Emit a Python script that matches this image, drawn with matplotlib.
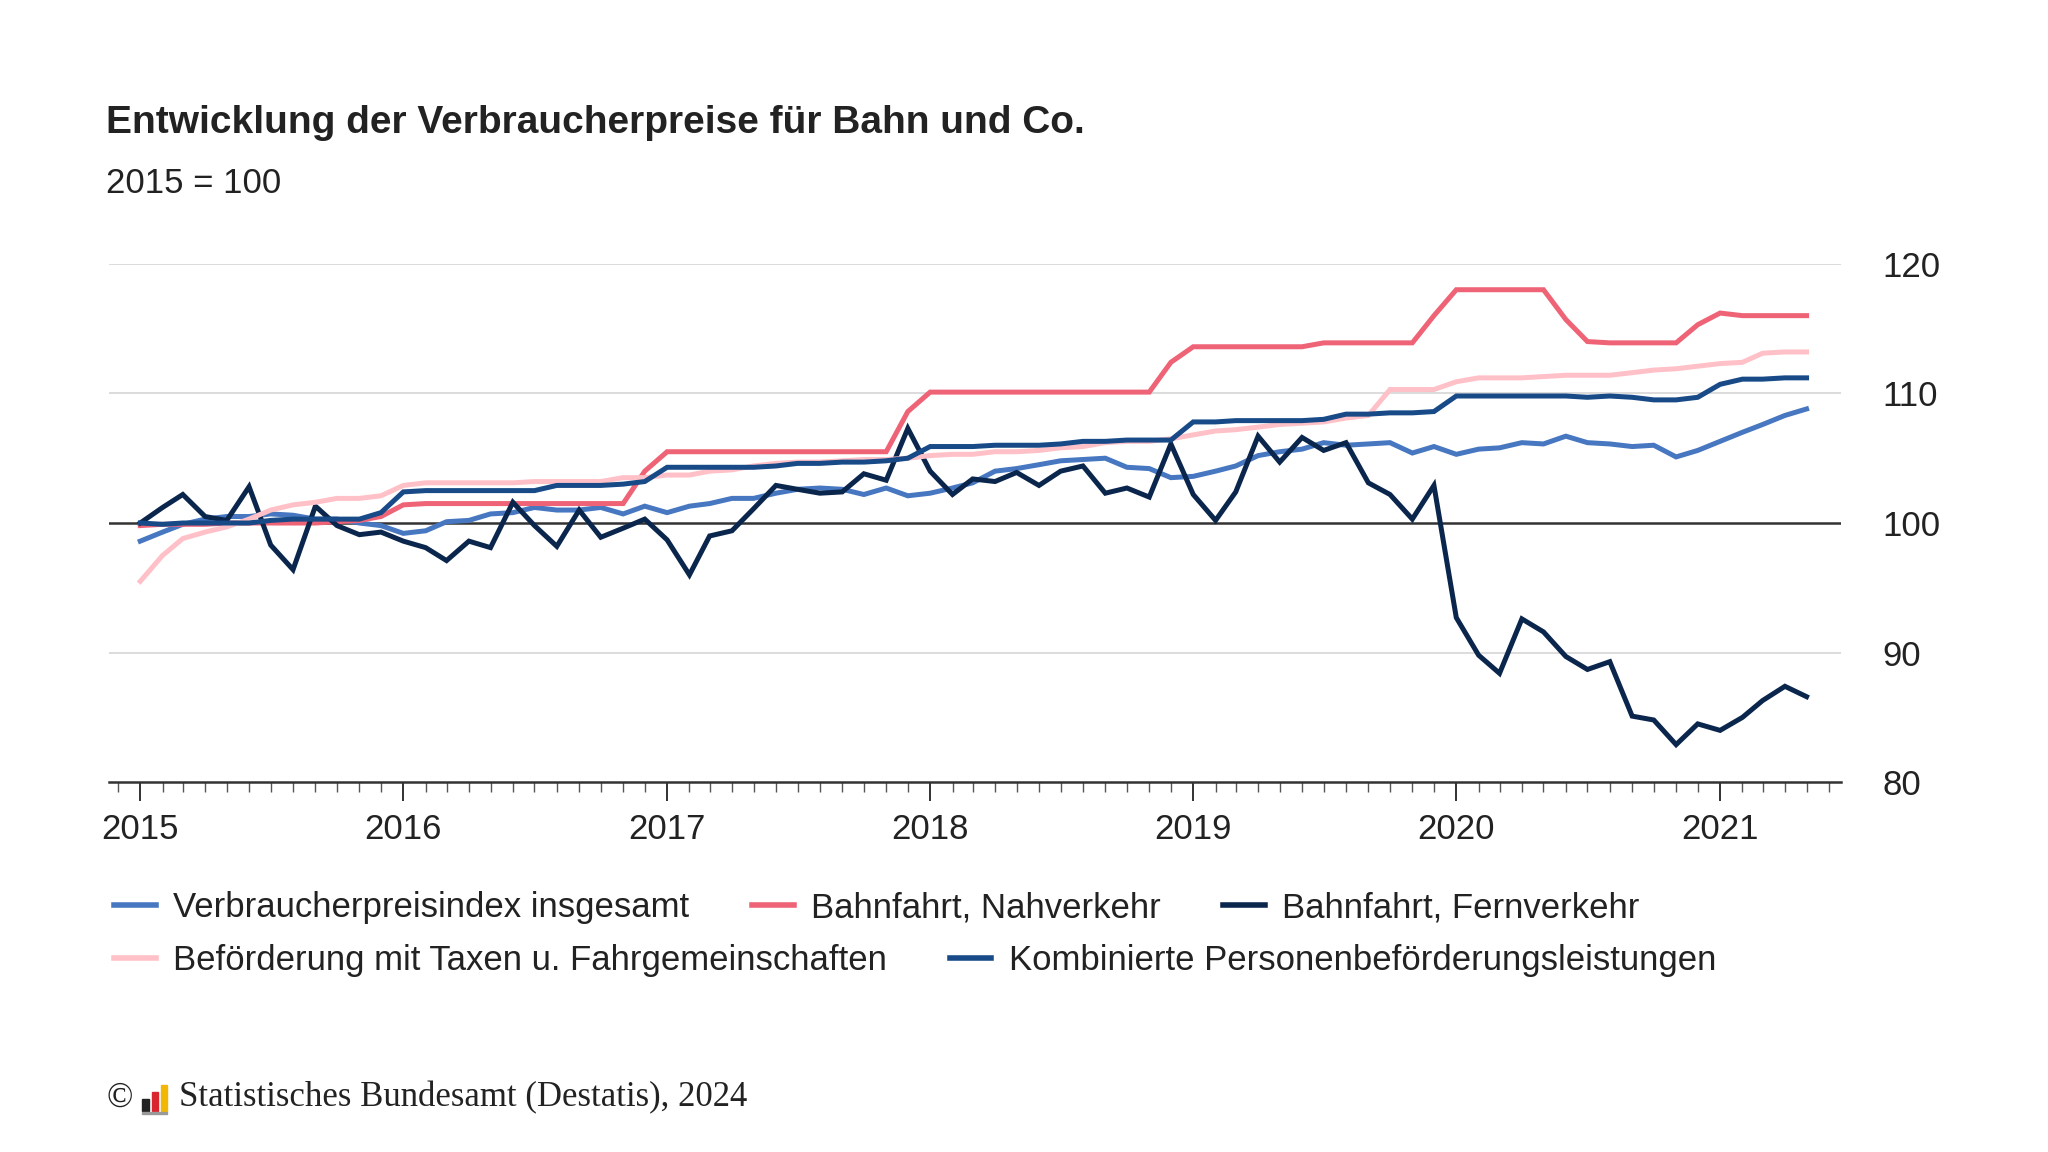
import matplotlib.pyplot as plt
import matplotlib.dates as mdates
from matplotlib.lines import Line2D
from matplotlib.patches import Rectangle
import pandas as pd

plt.rcParams['font.family'] = ['Liberation Sans', 'DejaVu Sans']

months = pd.date_range('2015-01-01', '2021-05-01', freq='MS')

vpi = [98.6, 99.3, 99.9, 100.3, 100.5, 100.5, 100.7, 100.6, 100.3, 100.3, 100.0, 99.8,
       99.2, 99.4, 100.1, 100.2, 100.7, 100.8, 101.2, 101.0, 101.0, 101.2, 100.7, 101.3,
       100.8, 101.3, 101.5, 101.9, 101.9, 102.3, 102.6, 102.7, 102.6, 102.2, 102.7, 102.1,
       102.3, 102.7, 103.1, 104.0, 104.2, 104.5, 104.8, 104.9, 105.0, 104.3, 104.2, 103.5,
       103.6, 104.0, 104.4, 105.2, 105.5, 105.7, 106.2, 106.0, 106.1, 106.2, 105.4, 105.9,
       105.3, 105.7, 105.8, 106.2, 106.1, 106.7, 106.2, 106.1, 105.9, 106.0, 105.1, 105.6,
       106.3, 107.0, 107.6, 108.3, 108.8]
nahverkehr = [99.8, 99.9, 99.9, 99.9, 100.0, 100.0, 100.0, 100.0, 100.0, 100.1, 100.2, 100.5,
              101.4, 101.5, 101.5, 101.5, 101.5, 101.5, 101.5, 101.5, 101.5, 101.5, 101.5, 104.0,
              105.5, 105.5, 105.5, 105.5, 105.5, 105.5, 105.5, 105.5, 105.5, 105.5, 105.5, 108.6,
              110.1, 110.1, 110.1, 110.1, 110.1, 110.1, 110.1, 110.1, 110.1, 110.1, 110.1, 112.4,
              113.6, 113.6, 113.6, 113.6, 113.6, 113.6, 113.9, 113.9, 113.9, 113.9, 113.9, 116.0,
              118.0, 118.0, 118.0, 118.0, 118.0, 115.7, 114.0, 113.9, 113.9, 113.9, 113.9, 115.3,
              116.2, 116.0, 116.0, 116.0, 116.0]
fernverkehr = [100.0, 101.2, 102.2, 100.5, 100.2, 102.8, 98.3, 96.4, 101.3, 99.8, 99.1, 99.3,
               98.6, 98.1, 97.1, 98.6, 98.1, 101.6, 99.8, 98.2, 101.0, 98.9, 99.6, 100.3,
               98.7, 96.0, 99.0, 99.4, 101.1, 102.9, 102.6, 102.3, 102.4, 103.8, 103.3, 107.3,
               104.0, 102.2, 103.4, 103.2, 103.9, 102.9, 104.0, 104.4, 102.3, 102.7, 102.0, 106.1,
               102.2, 100.2, 102.4, 106.7, 104.7, 106.6, 105.6, 106.2, 103.1, 102.2, 100.3, 102.9,
               92.7, 89.8, 88.4, 92.6, 91.6, 89.7, 88.7, 89.3, 85.1, 84.8, 82.9, 84.5,
               84.0, 85.0, 86.3, 87.4, 86.6]
taxen = [95.5, 97.5, 98.8, 99.3, 99.7, 100.3, 101.0, 101.4, 101.6, 101.9, 101.9, 102.1,
         102.9, 103.1, 103.1, 103.1, 103.1, 103.1, 103.2, 103.2, 103.2, 103.2, 103.5, 103.5,
         103.7, 103.7, 104.0, 104.1, 104.4, 104.6, 104.7, 104.7, 104.8, 104.9, 104.9, 105.0,
         105.2, 105.3, 105.3, 105.5, 105.5, 105.6, 105.8, 105.9, 106.2, 106.3, 106.3, 106.5,
         106.8, 107.1, 107.2, 107.4, 107.6, 107.7, 107.8, 108.1, 108.3, 110.3, 110.3, 110.3,
         110.9, 111.2, 111.2, 111.2, 111.3, 111.4, 111.4, 111.4, 111.6, 111.8, 111.9, 112.1,
         112.3, 112.4, 113.1, 113.2, 113.2]
kombiniert = [100.0, 99.9, 100.0, 100.0, 100.0, 100.0, 100.2, 100.3, 100.3, 100.3, 100.3, 100.8,
              102.4, 102.5, 102.5, 102.5, 102.5, 102.5, 102.5, 102.9, 102.9, 102.9, 103.0, 103.2,
              104.3, 104.3, 104.3, 104.3, 104.3, 104.4, 104.6, 104.6, 104.7, 104.7, 104.8, 105.0,
              105.9, 105.9, 105.9, 106.0, 106.0, 106.0, 106.1, 106.3, 106.3, 106.4, 106.4, 106.4,
              107.8, 107.8, 107.9, 107.9, 107.9, 107.9, 108.0, 108.4, 108.4, 108.5, 108.5, 108.6,
              109.8, 109.8, 109.8, 109.8, 109.8, 109.8, 109.7, 109.8, 109.7, 109.5, 109.5, 109.7,
              110.7, 111.1, 111.1, 111.2, 111.2]

series = [
    ('Verbraucherpreisindex insgesamt', vpi, '#4677c0'),
    ('Bahnfahrt, Nahverkehr', nahverkehr, '#ef6377'),
    ('Bahnfahrt, Fernverkehr', fernverkehr, '#0b264d'),
    ('Beförderung mit Taxen u. Fahrgemeinschaften', taxen, '#ffc1c7'),
    ('Kombinierte Personenbeförderungsleistungen', kombiniert, '#174a87'),
]

fig = plt.figure(figsize=(20.48, 11.52), dpi=100)
ax = fig.add_axes([0.053, 0.321, 0.846, 0.45])

# grid and baseline
for y in [90, 110, 120]:
    ax.axhline(y, color='#d9d9d9', lw=1.3, zorder=0)
ax.axhline(100, color='#333333', lw=1.8, zorder=1)

# draw in an order so dark line lies on top
draw_order = [3, 0, 4, 1, 2]
for i in draw_order:
    name, vals, color = series[i]
    ax.plot(months, vals, color=color, lw=3.6, solid_joinstyle='miter', zorder=2 + i * 0.1)

ax.set_ylim(80, 120)
ax.set_xlim(pd.Timestamp('2014-11-18'), pd.Timestamp('2021-06-18'))
ax.yaxis.tick_right()
ax.set_yticks([80, 90, 100, 110, 120])
ax.tick_params(axis='y', length=0, labelsize=25, pad=30, colors='#222222')

ax.xaxis.set_major_locator(mdates.YearLocator())
ax.xaxis.set_major_formatter(mdates.DateFormatter('%Y'))
ax.xaxis.set_minor_locator(mdates.MonthLocator())
ax.tick_params(axis='x', which='major', length=14, width=1.3, labelsize=25, pad=8,
               colors='#222222')
ax.tick_params(axis='x', which='minor', length=7, width=1.0, color='#555555')

for s in ['top', 'right', 'left']:
    ax.spines[s].set_visible(False)
ax.spines['bottom'].set_color('#333333')
ax.spines['bottom'].set_linewidth(1.8)

fig.text(0.052, 0.893, 'Entwicklung der Verbraucherpreise für Bahn und Co.',
         fontsize=28, fontweight='bold', color='#222222', va='center')
fig.text(0.052, 0.841, '2015 = 100', fontsize=25, color='#222222', va='center')

def handles(idx):
    return [Line2D([0], [0], color=series[i][2], lw=4) for i in idx], [series[i][0] for i in idx]

h1, l1 = handles([0, 1, 2])
h2, l2 = handles([3, 4])
kw = dict(frameon=False, fontsize=25, handlelength=1.2, handletextpad=0.5,
          borderaxespad=0, labelcolor='#222222')
fig.legend(h1, l1, loc='center left', bbox_to_anchor=(0.049, 0.212), ncol=3,
           columnspacing=1.8, **kw)
fig.legend(h2, l2, loc='center left', bbox_to_anchor=(0.049, 0.166), ncol=2,
           columnspacing=1.8, **kw)

# footer with small logo bars
fig.text(0.052, 0.047, '©', fontsize=25, family=['Liberation Serif', 'DejaVu Serif'],
         color='#222222', va='center')
for k, (c, h) in enumerate([('#222222', 0.010), ('#d9262e', 0.016), ('#f2b705', 0.022)]):
    fig.add_artist(Rectangle((0.0695 + k * 0.0045, 0.036), 0.0032, h, color=c,
                             transform=fig.transFigure))
fig.add_artist(Rectangle((0.0695, 0.033), 0.0122, 0.002, color='#999999',
                         transform=fig.transFigure))
fig.text(0.0875, 0.047, 'Statistisches Bundesamt (Destatis), 2024',
         fontsize=25, family=['Liberation Serif', 'DejaVu Serif'], color='#222222', va='center')

fig.savefig('out.png', dpi=100, facecolor='white')
